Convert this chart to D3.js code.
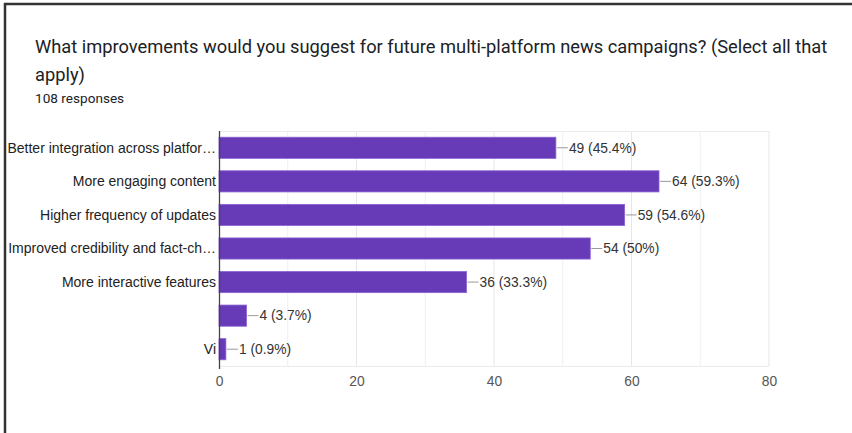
<!DOCTYPE html>
<html><head><meta charset="utf-8">
<script src="https://cdn.jsdelivr.net/npm/d3@7"></script>
<style>html,body{margin:0;padding:0;background:#fff;}svg{display:block;}</style>
</head><body>
<script>
const titleLines = ["What improvements would you suggest for future multi-platform news campaigns? (Select all that", "apply)"];
const subtitle = "108 responses";
const categories = ["Better integration across platfor…","More engaging content","Higher frequency of updates","Improved credibility and fact-ch…","More interactive features","","Vi"];
const counts = [49,64,59,54,36,4,1];
const percents = ["45.4%","59.3%","54.6%","50%","33.3%","3.7%","0.9%"];
const xTicks = [0,20,40,60,80];
const gridTicks = [10,20,30,40,50,60,70,80];

const W=852,H=433;
const svg=d3.select("body").append("svg").attr("width",W).attr("height",H);
svg.append("rect").attr("width",W).attr("height",H).attr("fill","#fff");
// frame
svg.append("line").attr("x1",4).attr("x2",W).attr("y1",4).attr("y2",4).attr("stroke","#333").attr("stroke-width",2.5);
svg.append("line").attr("x1",5).attr("x2",5).attr("y1",3).attr("y2",H).attr("stroke","#333").attr("stroke-width",2.5);

svg.selectAll("text.title").data(titleLines).join("text").attr("class","title")
  .attr("x",35).attr("y",(d,i)=>53+i*28).attr("font-family","Roboto, sans-serif").attr("font-size",18.3)
  .attr("fill","#202124").text(d=>d);
svg.append("text").attr("x",35).attr("y",103).attr("font-family","Roboto, sans-serif").attr("font-size",13.6)
  .attr("fill","#202124").text(subtitle);

const m={l:219,r:769,t:131,b:366};
const x=d3.scaleLinear().domain([0,80]).range([m.l,m.r]);
const y=d3.scaleBand().domain(d3.range(categories.length)).range([m.t,m.b]).paddingInner(0.37).paddingOuter(0.185);
const font="Liberation Sans, Arial, sans-serif";

const g=svg.append("g");
// plot frame & grid
g.selectAll("line.grid").data(gridTicks).join("line").attr("x1",d=>x(d)).attr("x2",d=>x(d))
  .attr("y1",m.t).attr("y2",m.b).attr("stroke",d=>d%20===0?"#e6e6e6":"#efefef").attr("stroke-width",1);
g.append("line").attr("x1",m.l).attr("x2",m.r).attr("y1",m.t+0.5).attr("y2",m.t+0.5).attr("stroke","#ebebeb");
g.append("line").attr("x1",m.l).attr("x2",m.r).attr("y1",m.b+0.5).attr("y2",m.b+0.5).attr("stroke","#ebebeb");

// bars
g.selectAll("rect.bar").data(counts).join("rect").attr("class","bar")
  .attr("x",x(0)).attr("y",(d,i)=>y(i)).attr("width",d=>x(d)-x(0)).attr("height",y.bandwidth())
  .attr("fill","#673ab7").attr("stroke","#8a63d2").attr("stroke-width",0.8);

// connector + value labels
g.selectAll("line.conn").data(counts).join("line").attr("class","conn")
  .attr("x1",d=>x(d)+1).attr("x2",d=>x(d)+12).attr("y1",(d,i)=>y(i)+y.bandwidth()/2).attr("y2",(d,i)=>y(i)+y.bandwidth()/2)
  .attr("stroke","#999").attr("stroke-width",1);
g.selectAll("text.val").data(counts).join("text").attr("class","val")
  .attr("x",d=>x(d)+13).attr("y",(d,i)=>y(i)+y.bandwidth()/2).attr("dy","0.35em")
  .attr("font-family",font).attr("font-size",13.8).attr("fill","#333")
  .text((d,i)=>`${d} (${percents[i]})`);

// category labels
g.selectAll("text.cat").data(categories).join("text").attr("class","cat")
  .attr("x",m.l-3).attr("y",(d,i)=>y(i)+y.bandwidth()/2).attr("dy","0.35em").attr("text-anchor","end")
  .attr("font-family",font).attr("font-size",14).attr("fill","#222").text(d=>d);

// y axis line
g.append("line").attr("x1",m.l+0.5).attr("x2",m.l+0.5).attr("y1",m.t).attr("y2",m.b+3).attr("stroke","#444").attr("stroke-width",1.3);

// x axis tick labels
const xa=d3.axisBottom(x).tickValues(xTicks).tickSize(0).tickPadding(10);
const ax=svg.append("g").attr("transform",`translate(0,${m.b})`).call(xa);
ax.select(".domain").remove();
ax.selectAll("text").attr("font-family",font).attr("font-size",13.8).attr("fill","#555");
</script>
</body></html>
